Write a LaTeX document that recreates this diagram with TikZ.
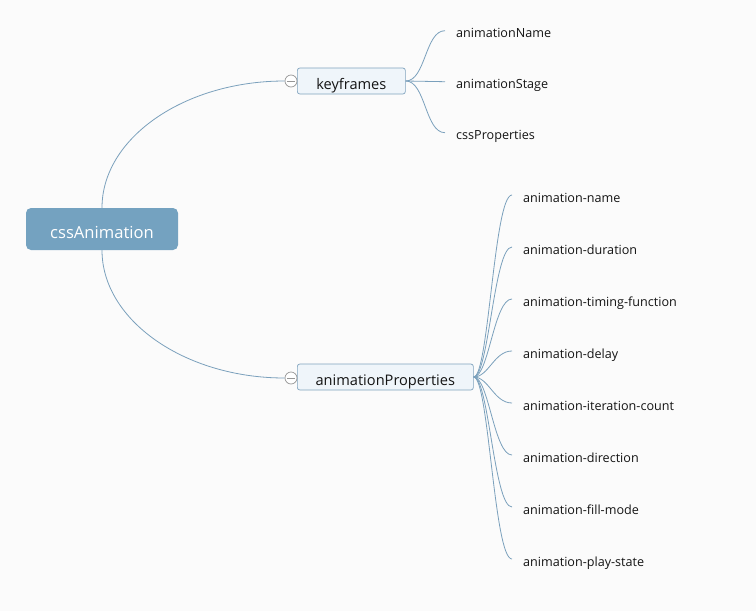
\documentclass[tikz,border=0pt]{standalone}
\usepackage{fontspec}
\setmainfont{Open Sans}
\usetikzlibrary{positioning,calc}
\definecolor{mapback}{RGB}{251,251,251}
\definecolor{maproot}{RGB}{116,162,192}
\definecolor{maptopic}{RGB}{239,245,250}
\definecolor{mapedge}{RGB}{128,163,190}
\definecolor{mapline}{RGB}{122,160,188}
\definecolor{mapfold}{RGB}{150,150,150}
\definecolor{maptext}{RGB}{20,20,20}
\tikzset{
  mind root/.style={
    fill=maproot,
    rounded corners=5pt,
    minimum width=152pt,
    minimum height=42pt,
    text height=18.6pt,
    text depth=0pt,
    text=white,
    font=\fontsize{16.6}{19}\selectfont,
  },
  mind topic/.style={
    draw=mapedge,
    fill=maptopic,
    rounded corners=2.5pt,
    line width=0.7pt,
    minimum height=26pt,
    text height=16.6pt,
    text depth=0pt,
    anchor=west,
    text=maptext,
    font=\fontsize{14.6}{17}\selectfont,
  },
  mind leaf/.style={
    anchor=west,
    inner xsep=11pt,
    inner ysep=2pt,
    text height=14pt,
    text depth=0pt,
    text=maptext,
    font=\fontsize{12.6}{15}\selectfont,
  },
  mind fold/.style={
    circle,
    draw=mapfold,
    fill=white,
    line width=0.7pt,
    minimum size=12pt,
    inner sep=0pt,
  },
  mind link/.style={
    draw=mapline,
    line width=0.8pt,
  },
}

\begin{document}
\begin{tikzpicture}[x=1pt,y=-1pt]
  \useasboundingbox[fill=mapback] (0,0) rectangle (756,611);

  % central topic
  \node[mind root] (root) at (102,229) {cssAnimation};

  % main branches
  \node[mind topic, minimum width=108pt] (kf) at (297,81) {keyframes};
  \node[mind topic, minimum width=176pt] (ap) at (297,377) {animationProperties};
  \node[mind fold] (kffold) at (291,81) {};
  \node[mind fold] (apfold) at (291,378) {};
  \draw[mapfold, line width=0.7pt] ([xshift=2.5pt]kffold.west) -- ([xshift=-2.5pt]kffold.east);
  \draw[mapfold, line width=0.7pt] ([xshift=2.5pt]apfold.west) -- ([xshift=-2.5pt]apfold.east);

  \draw[mind link] (root.north) .. controls +(0,-70) and +(-100,0) .. (kffold.west);
  \draw[mind link] (root.south) .. controls +(0,70) and +(-100,0) .. (apfold.west);

  % keyframes leaves
  \node[mind leaf] (kf1) at (445,30.7) {animationName};
  \node[mind leaf] (kf2) at (445,81.7) {animationStage};
  \node[mind leaf] (kf3) at (445,132.7) {cssProperties};

  \draw[mind link] (kf.east) .. controls +(20,0) and +(-20,0) .. (kf1.west);
  \draw[mind link] (kf.east) .. controls +(20,0) and +(-20,0) .. (kf2.west);
  \draw[mind link] (kf.east) .. controls +(20,0) and +(-20,0) .. (kf3.west);

  % animationProperties leaves
  \node[mind leaf] (ap1) at (512,195) {animation-name};
  \node[mind leaf] (ap2) at (512,247) {animation-duration};
  \node[mind leaf] (ap3) at (512,299) {animation-timing-function};
  \node[mind leaf] (ap4) at (512,351) {animation-delay};
  \node[mind leaf] (ap5) at (512,403) {animation-iteration-count};
  \node[mind leaf] (ap6) at (512,455) {animation-direction};
  \node[mind leaf] (ap7) at (512,507) {animation-fill-mode};
  \node[mind leaf] (ap8) at (512,559) {animation-play-state};

  \draw[mind link] (ap.east) .. controls +(15,0) and +(-18,0) .. (ap1.west);
  \draw[mind link] (ap.east) .. controls +(15,0) and +(-18,0) .. (ap2.west);
  \draw[mind link] (ap.east) .. controls +(15,0) and +(-18,0) .. (ap3.west);
  \draw[mind link] (ap.east) .. controls +(15,0) and +(-18,0) .. (ap4.west);
  \draw[mind link] (ap.east) .. controls +(15,0) and +(-18,0) .. (ap5.west);
  \draw[mind link] (ap.east) .. controls +(15,0) and +(-18,0) .. (ap6.west);
  \draw[mind link] (ap.east) .. controls +(15,0) and +(-18,0) .. (ap7.west);
  \draw[mind link] (ap.east) .. controls +(15,0) and +(-18,0) .. (ap8.west);
\end{tikzpicture}
\end{document}
